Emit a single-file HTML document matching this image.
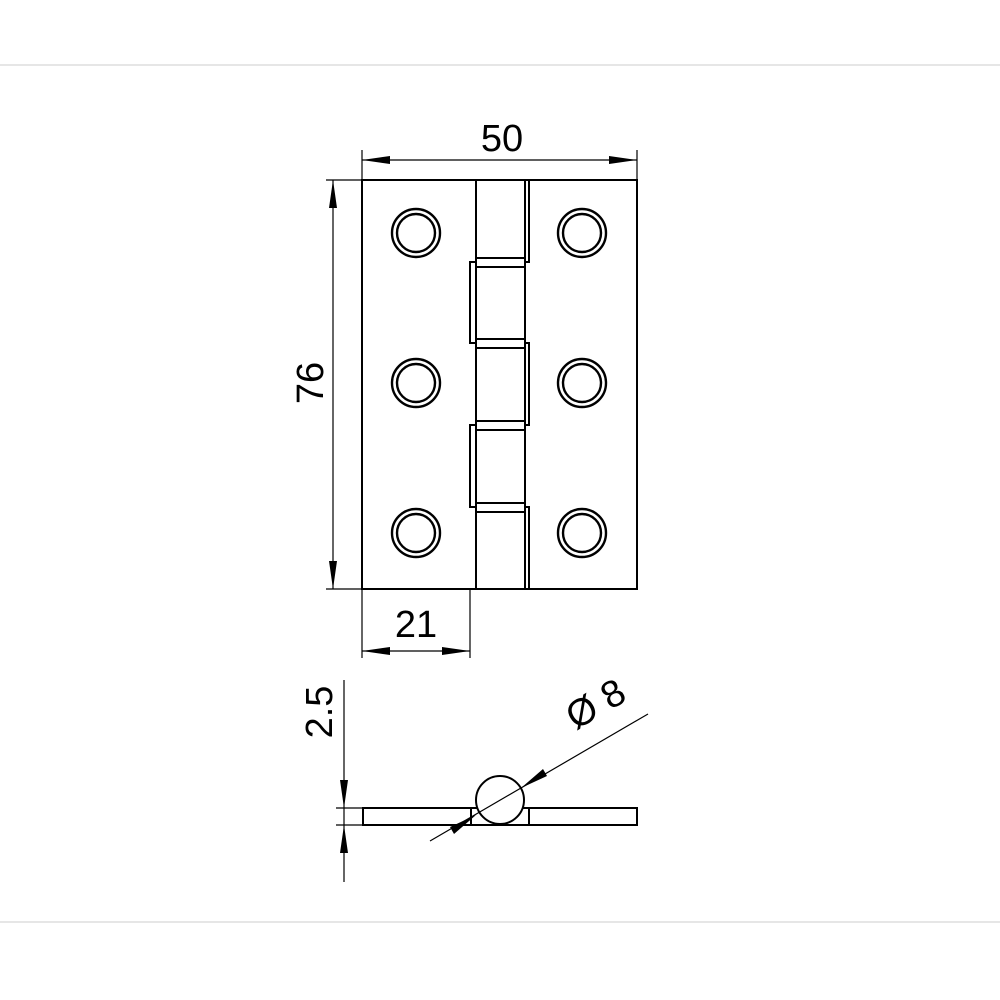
<!DOCTYPE html>
<html><head><style>html,body{margin:0;padding:0;background:#fff}svg{display:block}</style></head>
<body>
<svg width="1000" height="1000" viewBox="0 0 1000 1000" xmlns="http://www.w3.org/2000/svg">
<line x1="0" y1="65" x2="1000" y2="65" stroke="#ccc" stroke-width="1"/>
<line x1="0" y1="922" x2="1000" y2="922" stroke="#ccc" stroke-width="1"/>
<g fill="none" stroke="#000" stroke-width="2">
 <path d="M476 180 H362 V589 H476"/>
 <path d="M529 180 H637 V589 H529"/>
 <line x1="476" y1="180" x2="529" y2="180"/>
 <line x1="476" y1="589" x2="529" y2="589"/>
 <line x1="476" y1="180" x2="476" y2="589"/>
 <line x1="525" y1="180" x2="525" y2="589"/>
 <path d="M529 180 V262 H525"/>
 <path d="M476 262 H470 V343 H476"/>
 <path d="M525 343 H529 V425 H525"/>
 <path d="M476 425 H470 V507 H476"/>
 <path d="M525 507 H529 V589"/>
 <line x1="476" y1="258" x2="525" y2="258"/><line x1="476" y1="267" x2="525" y2="267"/>
 <line x1="476" y1="339" x2="525" y2="339"/><line x1="476" y1="348" x2="525" y2="348"/>
 <line x1="476" y1="421" x2="525" y2="421"/><line x1="476" y1="430" x2="525" y2="430"/>
 <line x1="476" y1="503" x2="525" y2="503"/><line x1="476" y1="512" x2="525" y2="512"/>
 <g stroke-width="2.4">
  <circle cx="416" cy="233" r="24"/><circle cx="416" cy="233" r="19"/>
  <circle cx="582" cy="233" r="24"/><circle cx="582" cy="233" r="19"/>
  <circle cx="416" cy="383" r="24"/><circle cx="416" cy="383" r="19"/>
  <circle cx="582" cy="383" r="24"/><circle cx="582" cy="383" r="19"/>
  <circle cx="416" cy="533" r="24"/><circle cx="416" cy="533" r="19"/>
  <circle cx="582" cy="533" r="24"/><circle cx="582" cy="533" r="19"/>
 </g>
 <rect x="363" y="808" width="274" height="17"/>
 <line x1="471" y1="808" x2="471" y2="825"/><line x1="529" y1="808" x2="529" y2="825"/>
 <circle cx="500" cy="800" r="24" fill="#fff"/>
</g>
<g stroke="#000" stroke-width="1.2" fill="none">
 <line x1="362" y1="150" x2="362" y2="180"/><line x1="637" y1="150" x2="637" y2="180"/>
 <line x1="362" y1="160" x2="637" y2="160"/>
 <line x1="326" y1="180" x2="362" y2="180"/><line x1="326" y1="589" x2="362" y2="589"/>
 <line x1="333" y1="180" x2="333" y2="589"/>
 <line x1="362" y1="589" x2="362" y2="658"/><line x1="470" y1="589" x2="470" y2="658"/>
 <line x1="362" y1="651" x2="470" y2="651"/>
 <line x1="344" y1="680" x2="344" y2="882"/>
 <line x1="336" y1="808" x2="363" y2="808"/><line x1="336" y1="825" x2="363" y2="825"/>
 <line x1="430" y1="841" x2="648" y2="714"/>
</g>
<g fill="#000">
 <polygon points="362,160 390,156 390,164"/><polygon points="637,160 609,156 609,164"/>
 <polygon points="333,180 329,208 337,208"/><polygon points="333,589 329,561 337,561"/>
 <polygon points="362,651 390,647 390,655"/><polygon points="470,651 442,647 442,655"/>
 <polygon points="344,808 340,780 348,780"/><polygon points="344,825 340,853 348,853"/>
 <polygon points="521,788 543,769 547,776"/>
 <polygon points="476,815 454,834 450,827"/>
</g>
<g font-family="Liberation Sans, sans-serif" font-size="38" fill="#000" text-anchor="middle">
 <text x="502" y="151">50</text>
 <text x="416" y="637">21</text>
 <text transform="translate(323,383) rotate(-90)">76</text>
 <text transform="translate(332,712) rotate(-90)">2.5</text>
 <text transform="translate(602,715) rotate(-30)">Ø 8</text>
</g>
</svg>
</body></html>
